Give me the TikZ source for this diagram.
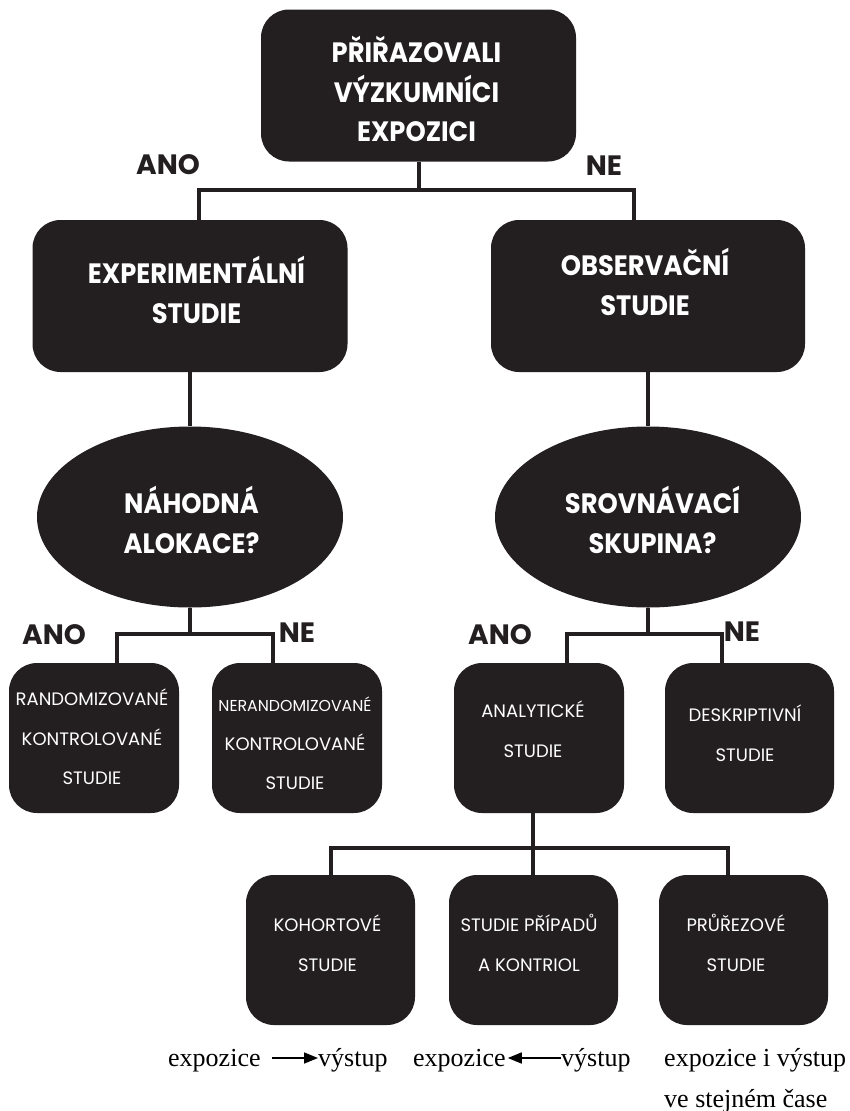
\documentclass[tikz,border=0pt]{standalone}
\usepackage{fontspec}
\setmainfont{Liberation Serif}
\newfontfamily\popf{Poppins}
\newfontfamily\popc{Poppins}[FakeStretch=0.92]
\usetikzlibrary{arrows.meta,shapes.geometric}
\definecolor{ink}{HTML}{231F20}
\tikzset{
  box/.style={fill=ink, draw=none, rounded corners=28pt, inner sep=0pt},
  bigbox/.style={box, minimum width=315pt, minimum height=152pt},
  smallbox/.style={box, minimum width=170pt, minimum height=150pt},
  oval/.style={ellipse, fill=ink, draw=none, minimum width=306pt, minimum height=181pt, inner sep=0pt},
  headtxt/.style={text=white, inner sep=0pt, align=center, font=\popc\bfseries\fontsize{28}{39.5}\selectfont},
  smtxt/.style={text=white, inner sep=0pt, align=center, font=\popf\fontsize{18}{39.5}\selectfont},
  lab/.style={text=ink, inner sep=0pt, font=\popf\bfseries\fontsize{28}{30}\selectfont},
  conn/.style={draw=ink, line width=4pt},
  ser/.style={inner sep=0pt, anchor=base west, font=\fontsize{26}{41}\selectfont},
  sarrow/.style={draw=black, line width=1.6pt, -{Triangle[length=14pt,width=11pt]}}
}
\begin{document}
\begin{tikzpicture}[x=1pt,y=-1pt]
\useasboundingbox[fill=white] (0,0) rectangle (849,1111);
% level 1
\node[bigbox] (top) at (418.5,85.5) {};
\node[headtxt] (toptxt) at (416.5,89) {PŘIŘAZOVALI\\VÝZKUMNÍCI\\EXPOZICI};
\node[lab] (ano1) at (168,165) {ANO};
\node[lab] (ne1) at (604,166) {NE};
% level 2
\node[bigbox] (exp) at (190,296) {};
\node[headtxt] (exptxt) at (196.5,290) {EXPERIMENTÁLNÍ\\STUDIE};
\node[bigbox, minimum width=314pt] (obs) at (648,296) {};
\node[headtxt] (obstxt) at (645,282) {OBSERVAČNÍ\\STUDIE};
% ellipses
\node[oval] (ell1) at (190,517) {};
\node[headtxt] (ell1txt) at (191.5,520) {NÁHODNÁ\\ALOKACE?};
\node[oval] (ell2) at (648,517) {};
\node[headtxt] (ell2txt) at (652.5,520) {SROVNÁVACÍ\\SKUPINA?};
\node[lab] (ano2) at (54,635) {ANO};
\node[lab] (ne2) at (297,633) {NE};
\node[lab] (ano3) at (500,635) {ANO};
\node[lab] (ne3) at (742,632) {NE};
% level 3
\node[smallbox] (rand) at (94,738) {};
\node[smtxt] (randtxt) at (92,737) {RANDOMIZOVANÉ\\KONTROLOVANÉ\\STUDIE};
\node[smallbox] (nrand) at (297,738) {};
\node[smtxt, font=\popf\fontsize{15.8}{39}\selectfont] (nrandtxt) at (295,743) {NERANDOMIZOVANÉ\\{\fontsize{18}{39}\selectfont KONTROLOVANÉ}\\{\fontsize{18}{39}\selectfont STUDIE}};
\node[smallbox] (analyt) at (539,738) {};
\node[smtxt] (analyttxt) at (533,729) {ANALYTICKÉ\\STUDIE};
\node[smallbox, minimum width=169pt] (deskr) at (749.5,738) {};
\node[smtxt] (deskrtxt) at (745,733) {DESKRIPTIVNÍ\\STUDIE};
% level 4
\node[smallbox, minimum width=169pt] (kohort) at (330.5,950) {};
\node[smtxt] (kohorttxt) at (327.5,943) {KOHORTOVÉ\\STUDIE};
\node[smallbox, minimum width=169pt] (pripad) at (533.5,950) {};
\node[smtxt] (pripadtxt) at (529,943) {STUDIE PŘÍPADŮ\\A KONTRIOL};
\node[smallbox, minimum width=169pt] (prurez) at (743.5,950) {};
\node[smtxt] (prureztxt) at (736,943) {PRŮŘEZOVÉ\\STUDIE};
% connectors
\coordinate (b1) at (418.5,190);
\draw[conn] (top.south) -- (b1);
\draw[conn] ([xshift=9pt]exp.north) |- (b1);
\draw[conn] ([xshift=-14pt]obs.north) |- (b1);
\draw[conn] (exp.south) -- (ell1.north);
\draw[conn] (obs.south) -- (ell2.north);
\coordinate (b2) at (190,634);
\draw[conn] (ell1.south) -- (b2);
\draw[conn] ([xshift=23pt]rand.north) |- (b2);
\draw[conn] ([xshift=-24pt]nrand.north) |- (b2);
\coordinate (b3) at (648,634);
\draw[conn] (ell2.south) -- (b3);
\draw[conn] ([xshift=28pt]analyt.north) |- (b3);
\draw[conn] ([xshift=-27.5pt]deskr.north) |- (b3);
\coordinate (b4) at (533,848);
\draw[conn] ([xshift=-6pt]analyt.south) -- ([xshift=-0.5pt]pripad.north);
\draw[conn] (kohort.north) |- (b4);
\draw[conn] ([xshift=-15.5pt]prurez.north) |- (b4);
% bottom texts
\node[ser] (e1) at (168,1066) {expozice};
\node[ser] (v1) at (318,1066) {výstup};
\draw[sarrow] ([xshift=11pt,yshift=8pt]e1.base east) -- ([yshift=8pt]v1.base west);
\node[ser] (e2) at (413,1066) {expozice};
\node[ser] (v2) at (561,1066) {výstup};
\draw[sarrow] ([yshift=8pt]v2.base west) -- ([xshift=2pt,yshift=8pt]e2.base east);
\node[ser, align=left] (e3) at (664,1107) {expozice i výstup\\ve stejném čase};
\end{tikzpicture}
\end{document}
